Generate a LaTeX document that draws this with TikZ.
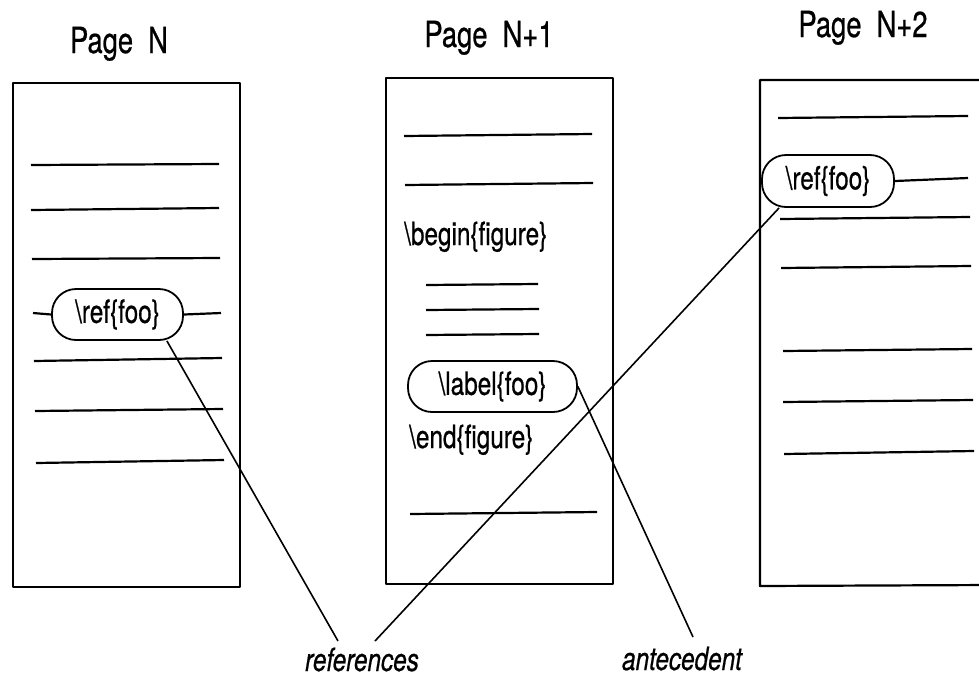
\documentclass[tikz,border=0pt]{standalone}
\usepackage{fontspec}
\setmainfont{TeX Gyre Heros}[FakeStretch=0.76,FakeBold=0.6]
\usetikzlibrary{calc}
\begin{document}
\begin{tikzpicture}[x=1pt,y=-1pt,
  pagebox/.style={line width=2.2pt, line join=round},
  txtline/.style={line width=2.2pt},
  conn/.style={line width=1.6pt},
  oval/.style={draw, line width=1.8pt, rounded corners=24pt, fill=white, inner sep=0pt,
               font=\fontsize{32}{36}\selectfont},
  title/.style={font=\fontsize{36}{40}\selectfont, anchor=base, inner sep=0pt},
  code/.style={font=\fontsize{32}{36}\selectfont, anchor=base west, inner sep=0pt},
  note/.style={font=\fontsize{32}{36}\selectfont\itshape, anchor=base, inner sep=0pt}]
\useasboundingbox (0,0) rectangle (979,678);
\clip (0,0) rectangle (979,678);

% titles
\node[title] (tN)  at (119,53) {Page\hspace{0.42em}N};
\node[title] (tN1) at (489,47) {Page\hspace{0.42em}N+1};
\node[title] (tN2) at (863,37) {Page\hspace{0.42em}N+2};

% ---- Page N ----
\draw[pagebox] (13,83) rectangle (240,587);
\draw[txtline] (31,165) -- (219,164);
\draw[txtline] (31,210) -- (219,208);
\draw[txtline] (32,259) -- (220,258);
\node[oval, minimum width=131pt, minimum height=51pt] (ref1) at (117.5,314.5) {\textbackslash ref\{foo\}};
\draw[txtline] (33,313) -- (ref1.west);
\draw[txtline] (ref1.east) -- (221,313);
\draw[txtline] (34,361) -- (222,358);
\draw[txtline] (35,411) -- (223,409);
\draw[txtline] (36,463) -- (224,460);

% ---- Page N+1 ----
\draw[pagebox] (386,78) rectangle (613,584);
\draw[txtline] (404,136) -- (592,134);
\draw[txtline] (405,185) -- (593,183);
\node[code] (beg) at (404,245) {\textbackslash begin\{figure\}};
\draw[txtline] (426,285) -- (538,284);
\draw[txtline] (426,310) -- (539,309);
\draw[txtline] (426,335) -- (539,334);
\node[oval, minimum width=169pt, minimum height=51pt] (lab) at (492.5,386.5) {\textbackslash label\{foo\}};
\node[code] (endf) at (409,448) {\textbackslash end\{figure\}};
\draw[txtline] (410,514) -- (597,512);

% ---- Page N+2 ----
\draw[pagebox] (990,80) -- (760,80) -- (760,586) -- (990,585);
\draw[txtline] (778,118) -- (968,116);
\node[oval, minimum width=132pt, minimum height=52pt] (ref2) at (828,181) {\textbackslash ref\{foo\}};
\draw[txtline] (ref2.east) -- (968,178);
\draw[txtline] (780,219) -- (970,217);
\draw[txtline] (781,268) -- (971,266);
\draw[txtline] (783,351) -- (972,349);
\draw[txtline] (783,402) -- (973,400);
\draw[txtline] (784,454) -- (974,451);

% ---- labels ----
\node[note] (refs) at (362,671) {references};
\node[note] (ante) at (682,670) {antecedent};
\coordinate (refsA) at (338,641);
\coordinate (refsB) at (375,641);
\coordinate (anteA) at (693,637);

% ---- connectors ----
\draw[conn] ($(ref1.south east)+(-17,0)$) -- (refsA);
\draw[conn] ($(ref2.south west)+(18,0)$) -- (refsB);
\draw[conn] (lab.east) -- (anteA);
\end{tikzpicture}
\end{document}
